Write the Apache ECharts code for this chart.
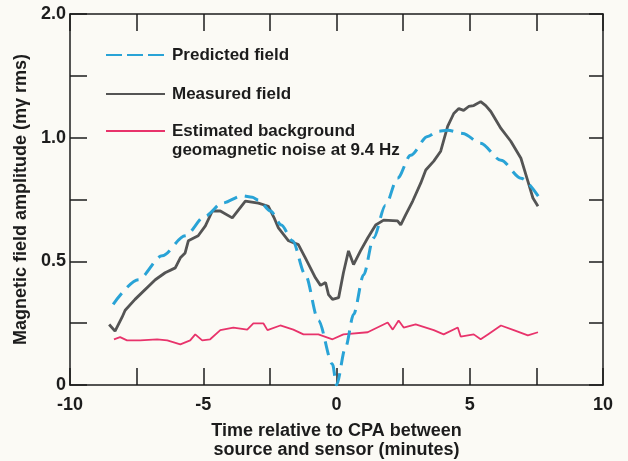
<!DOCTYPE html>
<html>
<head>
<meta charset="utf-8">
<script src="https://cdn.jsdelivr.net/npm/echarts@6/dist/echarts.min.js"></script>
<style>
html,body{margin:0;padding:0;background:#fbfaf5;}
#c{width:628px;height:461px;}
</style>
</head>
<body>
<div id="c"></div>
<script>
// Time relative to CPA (minutes), amplitude (m-gamma rms)
const predicted = [
  [-8.38,0.393],[-7.44,0.451],[-6.54,0.516],[-5.68,0.577],[-4.92,0.645],[-4.29,0.693],[-3.53,0.722],
  [-3.16,0.716],[-2.93,0.705],[-2.48,0.663],[-2.07,0.613],[-1.65,0.561],[-1.17,0.464],[-0.68,0.359],
  [-0.15,0.281],[0,0.25],[0.34,0.309],[0.64,0.371],[1.02,0.464],[1.39,0.570],[1.84,0.685],[2.29,0.797],
  [2.78,0.906],[3.42,1.007],[3.80,1.036],[4.17,1.042],[4.74,1.024],[5.41,0.969],[6.17,0.881],[6.92,0.797],[7.67,0.705]
];
const measured = [
  [-8.53,0.351],[-8.31,0.338],[-8.05,0.365],[-7.93,0.380],[-7.56,0.404],[-6.80,0.451],[-6.43,0.469],
  [-6.05,0.482],[-5.86,0.510],[-5.68,0.524],[-5.56,0.561],[-5.19,0.577],[-4.92,0.610],[-4.66,0.663],
  [-4.36,0.663],[-3.91,0.638],[-3.42,0.701],[-2.93,0.693],[-2.56,0.681],[-2.35,0.64],[-2.18,0.603],
  [-1.80,0.561],[-1.43,0.549],[-1.17,0.510],[-0.79,0.456],[-0.60,0.437],[-0.41,0.444],[-0.30,0.415],
  [-0.15,0.404],[0.08,0.408],[0.26,0.469],[0.45,0.530],[0.64,0.491],[0.90,0.530],[1.17,0.570],
  [1.47,0.613],[1.77,0.630],[2.29,0.627],[2.41,0.613],[2.59,0.648],[2.86,0.701],[3.16,0.775],
  [3.35,0.834],[3.65,0.877],[3.91,0.927],[4.17,1.065],[4.40,1.145],[4.59,1.177],[4.77,1.165],
  [4.96,1.191],[5.15,1.197],[5.41,1.224],[5.60,1.197],[5.79,1.158],[6.17,1.053],[6.54,0.980],
  [6.92,0.891],[7.18,0.784],[7.37,0.713],[7.56,0.681]
];
const noise = [
  [-8.35,0.323],[-8.12,0.327],[-7.86,0.321],[-7.37,0.321],[-6.73,0.323],[-6.35,0.321],[-5.86,0.314],
  [-5.49,0.321],[-5.30,0.332],[-5.04,0.321],[-4.74,0.323],[-4.36,0.340],[-3.87,0.345],[-3.35,0.341],
  [-3.12,0.353],[-2.74,0.353],[-2.59,0.340],[-2.11,0.349],[-1.62,0.341],[-1.24,0.332],[-0.68,0.332],
  [-0.15,0.323],[0.26,0.332],[1.17,0.336],[1.92,0.355],[2.11,0.341],[2.33,0.359],[2.52,0.345],
  [2.97,0.351],[3.65,0.340],[4.02,0.332],[4.55,0.345],[4.66,0.328],[5.15,0.332],[5.41,0.323],
  [5.68,0.332],[6.17,0.349],[6.65,0.340],[7.18,0.330],[7.56,0.336]
];
const xTickLabels = {'-10':'-10','-5':'-5','0':'0','5':'5','10':'10'};
const yTickLabels = ['0','','0.5','','1.0','','2.0'];
const seriesNames = ['Predicted field','Measured field','Estimated background\ngeomagnetic noise at 9.4 Hz'];

const FONT = 'Liberation Sans, Arial, sans-serif';
const INK = '#1c1c1c';
const chart = echarts.init(document.getElementById('c'), null, {renderer:'canvas'});
const xCommon = {
  type:'value', min:-10, max:10, interval:2.5,
  axisLine:{show:true, onZero:false, lineStyle:{color:INK,width:1.5}},
  axisTick:{show:true, inside:true, length:17, lineStyle:{color:INK,width:1.5}},
  splitLine:{show:false}
};
const yCommon = {
  type:'log', logBase:Math.SQRT2, min:0.25, max:2, splitNumber:6,
  axisLine:{show:true, onZero:false, lineStyle:{color:INK,width:1.5}},
  axisTick:{show:true, inside:true, length:17, lineStyle:{color:INK,width:1.5}},
  splitLine:{show:false}, minorTick:{show:false}
};
const legendText = {fontFamily:FONT, fontSize:17, fontWeight:'bold', color:INK, padding:[0,0,0,2], lineHeight:19};
const legendBase = {
  orient:'vertical', left:105, padding:0, itemWidth:59, itemHeight:14, itemGap:20,
  itemStyle:{opacity:0, borderWidth:0}, textStyle:legendText, selectedMode:false
};
chart.setOption({
  backgroundColor:'#fbfaf5',
  animation:false,
  grid:{left:70, right:25, top:14, bottom:76, outerBoundsMode:'none', containLabel:false},
  legend:[
    Object.assign({}, legendBase, {top:45.5, data:[
      {name:seriesNames[0], lineStyle:{type:[16,5]}},
      {name:seriesNames[1]}
    ]}),
    Object.assign({}, legendBase, {top:102.5, data:[{name:seriesNames[2]}],
      formatter: n => '\n' + n})
  ],
  xAxis:[
    Object.assign({}, xCommon, {
      position:'bottom',
      name:'Time relative to CPA between\nsource and sensor (minutes)',
      nameLocation:'middle', nameGap:37,
      nameTextStyle:{fontFamily:FONT, fontSize:18, fontWeight:'bold', color:INK, lineHeight:19},
      axisLabel:{show:true, margin:11, fontFamily:FONT, fontSize:18, fontWeight:'bold', color:INK,
        formatter:v => (xTickLabels[String(v)] !== undefined ? xTickLabels[String(v)] : '')}
    }),
    Object.assign({}, xCommon, {position:'top', axisLabel:{show:false}})
  ],
  yAxis:[
    Object.assign({}, yCommon, {
      position:'left',
      name:'Magnetic field amplitude (m\u03b3 rms)',
      nameLocation:'middle', nameGap:38, nameRotate:90,
      nameTextStyle:{fontFamily:FONT, fontSize:18, fontWeight:'bold', color:INK},
      axisLabel:{show:true, margin:4, fontFamily:FONT, fontSize:18, fontWeight:'bold', color:INK,
        formatter:(v,i) => (yTickLabels[i] || '')}
    }),
    Object.assign({}, yCommon, {position:'right', axisLabel:{show:false},
      axisTick:{show:true, inside:true, length:14, lineStyle:{color:INK,width:1.5}}})
  ],
  series:[
    {name:seriesNames[0], type:'line', data:predicted, symbol:'none', smooth:0.3, smoothMonotone:'x',
     lineStyle:{color:'#29a3d6', width:3, type:[14,8]}, itemStyle:{color:'#29a3d6'}, z:3},
    {name:seriesNames[1], type:'line', data:measured, symbol:'none',
     lineStyle:{color:'#545454', width:2.8}, itemStyle:{color:'#545454'}, z:2},
    {name:seriesNames[2], type:'line', data:noise, symbol:'none',
     lineStyle:{color:'#e8336b', width:1.8}, itemStyle:{color:'#e8336b'}, z:2}
  ]
});
</script>
</body>
</html>
